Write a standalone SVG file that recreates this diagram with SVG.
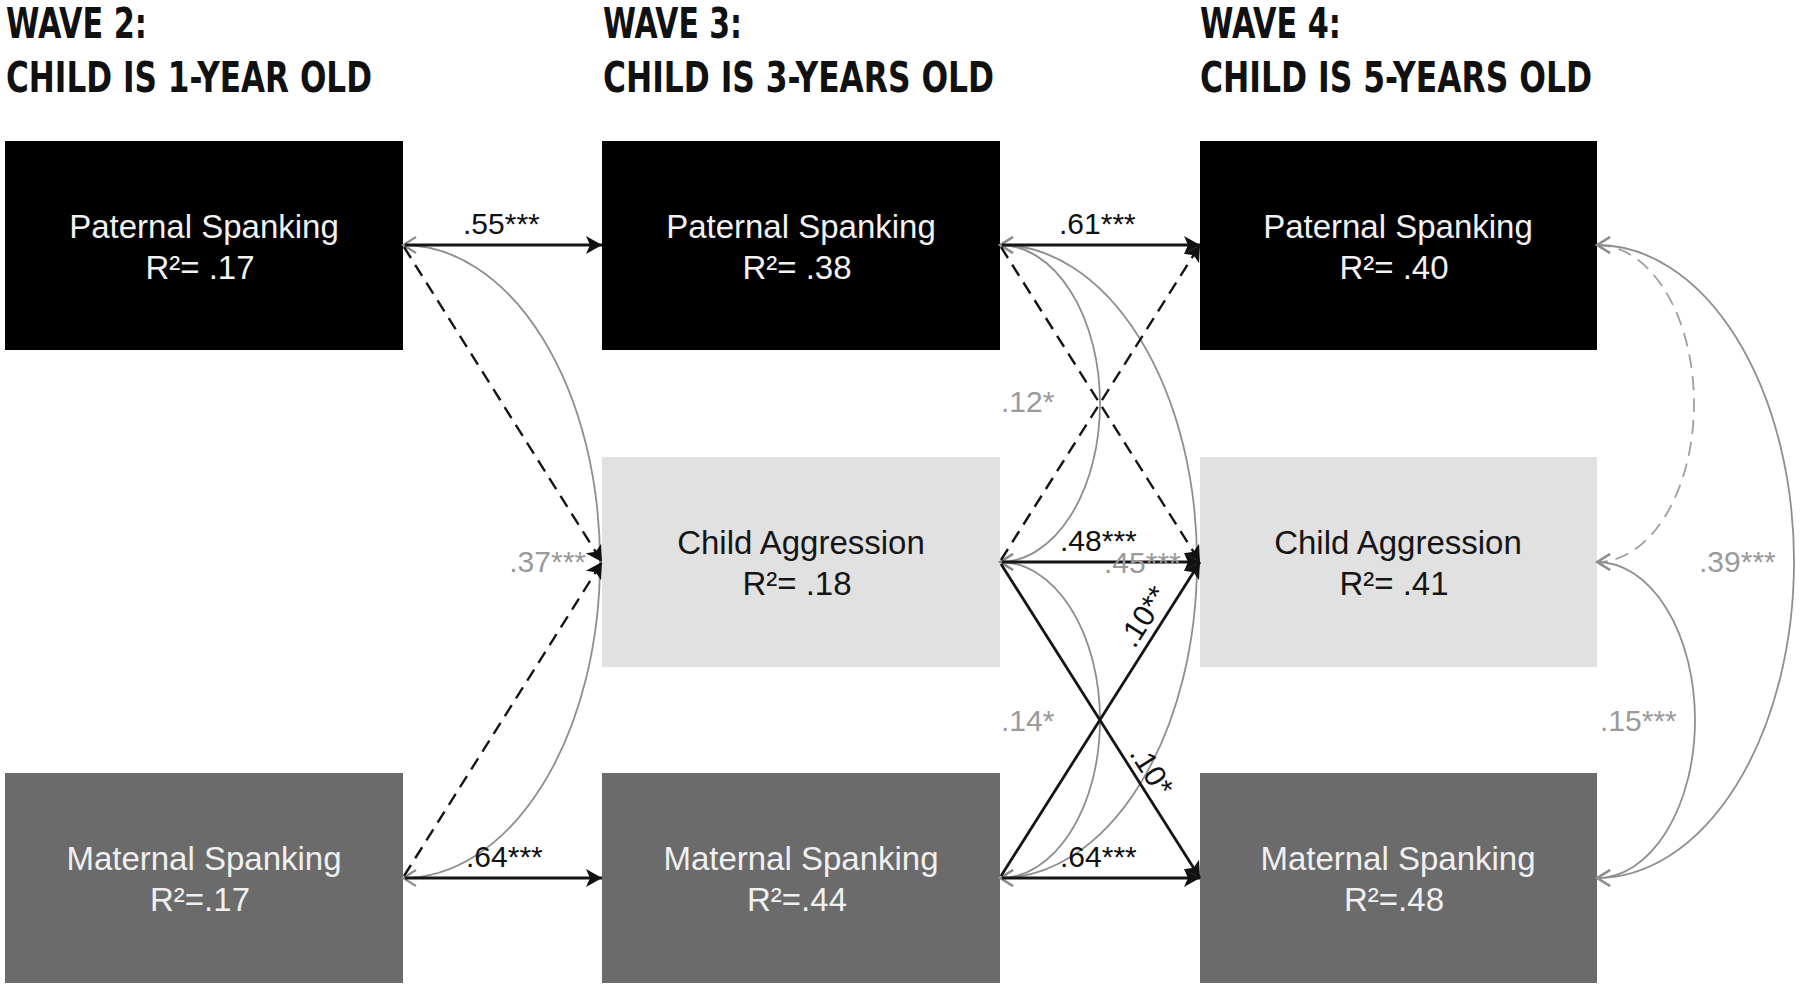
<svg xmlns="http://www.w3.org/2000/svg" width="1800" height="986" viewBox="0 0 1800 986">
  <style>
    .title { font-family: "Liberation Sans Narrow", "DejaVu Sans Condensed", "Liberation Sans", sans-serif; font-stretch: condensed; font-weight: bold; font-size: 42px; fill: #111; }
    .node { font-family: "Liberation Sans", Arial, sans-serif; font-size: 33px; text-anchor: middle; }
    .dark .node { fill: #f2f2f2; }
    .light .node { fill: #151515; }
    .mid .node { fill: #f0f0f0; }
    .lab { font-family: "Liberation Sans", Arial, sans-serif; font-size: 30px; fill: #111; }
    .glab { font-family: "Liberation Sans", Arial, sans-serif; font-size: 30px; fill: #9a9a9a; }
    .path { stroke: #151515; stroke-width: 2.8; fill: none; marker-end: url(#ah); }
    .dash { stroke-dasharray: 13 8; stroke-width: 2.4; }
    .cov { stroke: #8f8f8f; stroke-width: 1.8; fill: none; marker-start: url(#gh); marker-end: url(#gh); }
    .gdash { stroke-dasharray: 14 8; stroke: #a0a0a0; }
  </style>
  <defs>
    <marker id="ah" viewBox="0 0 17 20" refX="16" refY="10" markerWidth="17" markerHeight="20" markerUnits="userSpaceOnUse" orient="auto">
      <path d="M0,1 L16,10 L0,19 L4,10 Z" fill="#111"/>
    </marker>
    <marker id="gh" viewBox="0 0 17 20" refX="15" refY="10" markerWidth="17" markerHeight="20" markerUnits="userSpaceOnUse" orient="auto-start-reverse">
      <path d="M2,2 L15,10 L2,18" fill="none" stroke="#8f8f8f" stroke-width="2.2"/>
    </marker>
  </defs>
  <rect width="1800" height="986" fill="#ffffff"/>

  <g id="titles">
    <text class="title" x="6" y="38" textLength="141" lengthAdjust="spacingAndGlyphs">WAVE 2:</text>
    <text class="title" x="6" y="92" textLength="366" lengthAdjust="spacingAndGlyphs">CHILD IS 1-YEAR OLD</text>
    <text class="title" x="603" y="38" textLength="139" lengthAdjust="spacingAndGlyphs">WAVE 3:</text>
    <text class="title" x="603" y="92" textLength="391" lengthAdjust="spacingAndGlyphs">CHILD IS 3-YEARS OLD</text>
    <text class="title" x="1200" y="38" textLength="141" lengthAdjust="spacingAndGlyphs">WAVE 4:</text>
    <text class="title" x="1200" y="92" textLength="392" lengthAdjust="spacingAndGlyphs">CHILD IS 5-YEARS OLD</text>
  </g>

  <g id="w2-paternal" class="dark">
    <rect x="5" y="141" width="398" height="209" fill="#000"/>
    <text class="node" x="204" y="238">Paternal Spanking</text>
    <text class="node" x="200" y="279">R²= .17</text>
  </g>
  <g id="w3-paternal" class="dark">
    <rect x="602" y="141" width="398" height="209" fill="#000"/>
    <text class="node" x="801" y="238">Paternal Spanking</text>
    <text class="node" x="797" y="279">R²= .38</text>
  </g>
  <g id="w4-paternal" class="dark">
    <rect x="1200" y="141" width="397" height="209" fill="#000"/>
    <text class="node" x="1398" y="238">Paternal Spanking</text>
    <text class="node" x="1394" y="279">R²= .40</text>
  </g>
  <g id="w3-aggression" class="light">
    <rect x="602" y="457" width="398" height="210" fill="#e1e1e1"/>
    <text class="node" x="801" y="554">Child Aggression</text>
    <text class="node" x="797" y="595">R²= .18</text>
  </g>
  <g id="w4-aggression" class="light">
    <rect x="1200" y="457" width="397" height="210" fill="#e1e1e1"/>
    <text class="node" x="1398" y="554">Child Aggression</text>
    <text class="node" x="1394" y="595">R²= .41</text>
  </g>
  <g id="w2-maternal" class="mid">
    <rect x="5" y="773" width="398" height="210" fill="#6b6b6b"/>
    <text class="node" x="204" y="870">Maternal Spanking</text>
    <text class="node" x="200" y="911">R²=.17</text>
  </g>
  <g id="w3-maternal" class="mid">
    <rect x="602" y="773" width="398" height="210" fill="#6b6b6b"/>
    <text class="node" x="801" y="870">Maternal Spanking</text>
    <text class="node" x="797" y="911">R²=.44</text>
  </g>
  <g id="w4-maternal" class="mid">
    <rect x="1200" y="773" width="397" height="210" fill="#6b6b6b"/>
    <text class="node" x="1398" y="870">Maternal Spanking</text>
    <text class="node" x="1394" y="911">R²=.48</text>
  </g>

  <g id="connectors">
    <!-- covariances -->
    <path class="cov" d="M403,245 A197,316.5 0 0 1 403,878"/>
    <path class="cov" d="M1000,245 A100,158.5 0 0 1 1000,562"/>
    <path class="cov" d="M1000,562 A100,158 0 0 1 1000,878"/>
    <path class="cov" d="M1000,245 A197,316.5 0 0 1 1000,878"/>
    <path class="cov gdash" d="M1597,245 A97,158.5 0 0 1 1597,562"/>
    <path class="cov" d="M1597,562 A98,158 0 0 1 1597,878"/>
    <path class="cov" d="M1597,245 A197,316.5 0 0 1 1597,878"/>

    <!-- wave 2 to wave 3 paths -->
    <line class="path" x1="405" y1="245" x2="602" y2="245"/>
    <line class="path dash" x1="404" y1="247" x2="602" y2="562"/>
    <line class="path dash" x1="404" y1="876" x2="602" y2="562"/>
    <line class="path" x1="405" y1="878" x2="602" y2="878"/>

    <!-- wave 3 to wave 4 paths -->
    <line class="path" x1="1002" y1="245" x2="1200" y2="245"/>
    <line class="path dash" x1="1001" y1="247" x2="1200" y2="562"/>
    <line class="path dash" x1="1001" y1="560" x2="1200" y2="245"/>
    <line class="path" x1="1002" y1="562" x2="1200" y2="562"/>
    <line class="path" x1="1001" y1="564" x2="1200" y2="878"/>
    <line class="path" x1="1001" y1="876" x2="1200" y2="562"/>
    <line class="path" x1="1002" y1="878" x2="1200" y2="878"/>

    <!-- labels -->
    <text class="lab" x="463" y="234">.55***</text>
    <text class="lab" x="466" y="867">.64***</text>
    <text class="lab" x="1059" y="234">.61***</text>
    <text class="lab" x="1060" y="551">.48***</text>
    <text class="lab" x="1060" y="867">.64***</text>
    <text class="lab" text-anchor="middle" transform="translate(1152,622) rotate(-57.7)">.10**</text>
    <text class="lab" text-anchor="middle" transform="translate(1143,776) rotate(57.7)">.10*</text>

    <text class="glab" x="586" y="572" text-anchor="end">.37***</text>
    <text class="glab" x="1001" y="412">.12*</text>
    <text class="glab" x="1104" y="573">.45***</text>
    <text class="glab" x="1001" y="731">.14*</text>
    <text class="glab" x="1600" y="731">.15***</text>
    <text class="glab" x="1699" y="572">.39***</text>
  </g>
</svg>
